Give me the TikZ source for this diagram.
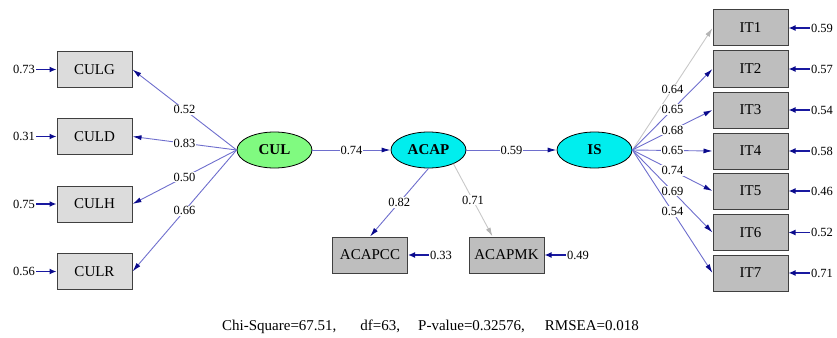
\documentclass[tikz,border=0pt]{standalone}
\usepackage{fontspec}
\setmainfont{Liberation Serif}
\usetikzlibrary{shapes.geometric,arrows.meta}
\definecolor{lightbox}{RGB}{220,220,220}
\definecolor{darkbox}{RGB}{190,190,190}
\definecolor{culgreen}{RGB}{128,250,128}
\definecolor{latcyan}{RGB}{0,238,238}
\definecolor{pathblue}{RGB}{110,110,205}
\definecolor{navyA}{RGB}{10,10,140}
\definecolor{errblue}{RGB}{25,25,160}
\definecolor{paleline}{RGB}{200,200,200}
\tikzset{
  obsbox/.style={draw=black!75, line width=1pt, minimum width=75pt, minimum height=36pt, inner sep=0pt, font=\fontsize{15}{15}\selectfont},
  lightobs/.style={obsbox, fill=lightbox},
  darkobs/.style={obsbox, fill=darkbox},
  latent/.style={ellipse, draw=black, line width=0.8pt, minimum width=75pt, minimum height=36pt, inner sep=0pt, font=\bfseries\fontsize{15}{15}\selectfont},
  numtxt/.style={font=\fontsize{12.5}{12.5}\selectfont, inner sep=1pt},
  lbl/.style={numtxt, fill=white},
  pathline/.style={draw=pathblue, line width=0.9pt, -{Latex[length=9pt,width=5pt,color=navyA]}},
  paleline/.style={draw=paleline, line width=0.9pt, -{Latex[length=9pt,width=5pt,color=paleline!90!black]}},
  errarrow/.style={draw=errblue, line width=1.8pt, -{Latex[length=7pt,width=6pt,color=navyA]}}
}
\begin{document}
\begin{tikzpicture}[x=1pt,y=-1pt]
\useasboundingbox (0,0) rectangle (837,337);
% left indicators
\node[lightobs] (CULG) at (94.5,69.5) {CULG};
\node[lightobs] (CULD) at (94.5,136.5) {CULD};
\node[lightobs] (CULH) at (94.5,204) {CULH};
\node[lightobs] (CULR) at (94.5,271.5) {CULR};
\node[numtxt] (eG) at (24,69.5) {0.73};
\node[numtxt] (eD) at (24,136.5) {0.31};
\node[numtxt] (eH) at (24,204) {0.75};
\node[numtxt] (eR) at (24,271.5) {0.56};
% latents
\node[latent, fill=culgreen] (CUL) at (274.5,150) {CUL};
\node[latent, fill=latcyan] (ACAP) at (428.5,150) {ACAP};
\node[latent, fill=latcyan] (IS) at (594.5,150) {IS};
% ACAP indicators
\node[darkobs] (ACAPCC) at (370,255) {ACAPCC};
\node[darkobs] (ACAPMK) at (506.5,255) {ACAPMK};
\node[numtxt] (eCC) at (441,255) {0.33};
\node[numtxt] (eMK) at (578,255) {0.49};
% IS indicators
\node[darkobs] (IT1) at (750.5,28) {IT1};
\node[darkobs] (IT2) at (750.5,69) {IT2};
\node[darkobs] (IT3) at (750.5,110) {IT3};
\node[darkobs] (IT4) at (750.5,151) {IT4};
\node[darkobs] (IT5) at (750.5,191) {IT5};
\node[darkobs] (IT6) at (750.5,232.5) {IT6};
\node[darkobs] (IT7) at (750.5,273) {IT7};
\node[numtxt] (e1) at (822,28) {0.59};
\node[numtxt] (e2) at (822,69) {0.57};
\node[numtxt] (e3) at (822,110) {0.54};
\node[numtxt] (e4) at (822,151) {0.58};
\node[numtxt] (e5) at (822,191) {0.46};
\node[numtxt] (e6) at (822,232.5) {0.52};
\node[numtxt] (e7) at (822,273) {0.71};
% error arrows
\foreach \e/\b in {eG/CULG,eD/CULD,eH/CULH,eR/CULR}
  \draw[errarrow] (\e.east) -- (\b.west);
\foreach \e/\b in {eCC/ACAPCC,eMK/ACAPMK,e1/IT1,e2/IT2,e3/IT3,e4/IT4,e5/IT5,e6/IT6,e7/IT7}
  \draw[errarrow] (\e.west) -- (\b.east);
% loadings CUL
\draw[pathline] (CUL.west) -- node[lbl] {0.52} (CULG.east);
\draw[pathline] (CUL.west) -- node[lbl] {0.83} (CULD.east);
\draw[pathline] (CUL.west) -- node[lbl] {0.50} (CULH.east);
\draw[pathline] (CUL.west) -- node[lbl] {0.66} (CULR.east);
% structural
\draw[pathline] (CUL.east) -- node[lbl] {0.74} (ACAP.west);
\draw[pathline] (ACAP.east) -- node[lbl] {0.59} (IS.west);
% ACAP loadings
\draw[pathline] (ACAP.south) -- node[lbl] {0.82} (ACAPCC.north);
\draw[paleline] (ACAP.-29) -- node[lbl] {0.71} ([xshift=24pt]ACAPMK.north west);
% IS loadings
\draw[paleline] (IS.east) -- node[lbl] {0.64} (IT1.west);
\draw[pathline] (IS.east) -- node[lbl] {0.65} (IT2.west);
\draw[pathline] (IS.east) -- node[lbl] {0.68} (IT3.west);
\draw[pathline] (IS.east) -- node[lbl] {0.65} (IT4.west);
\draw[pathline] (IS.east) -- node[lbl] {0.74} (IT5.west);
\draw[pathline] (IS.east) -- node[lbl] {0.69} (IT6.west);
\draw[pathline] (IS.east) -- node[lbl] {0.54} (IT7.west);
% fit statistics
\node[font=\fontsize{15}{15}\selectfont, inner sep=0pt, anchor=west] (fit) at (222,327)
  {Chi-Square=67.51,\hspace{24pt}df=63,\hspace{18pt}P-value=0.32576,\hspace{20pt}RMSEA=0.018};
\end{tikzpicture}
\end{document}
